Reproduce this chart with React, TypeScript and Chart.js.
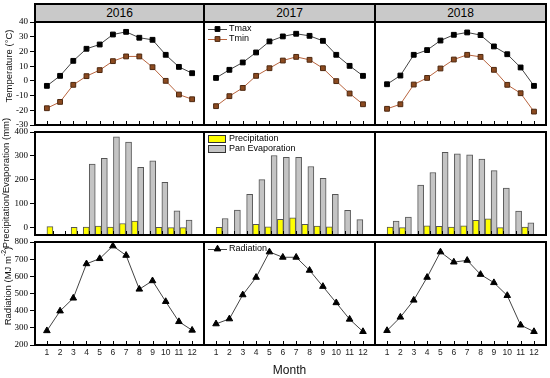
import React, { useEffect, useRef } from 'react';
import { Chart, registerables } from 'chart.js';

Chart.register(...registerables);

// ---------------- data ----------------
const MONTHS = [1, 2, 3, 4, 5, 6, 7, 8, 9, 10, 11, 12];
const YEARS = ['2016', '2017', '2018'];

const TMAX_2016 = [-3.4, 3.4, 13.6, 21.8, 24.7, 31.5, 33.3, 29.3, 27.9, 17.7, 9.5, 5.2];
const TMIN_2016 = [-18.6, -14.3, -2.7, 3.2, 7.3, 13.4, 16.6, 16.6, 9.3, 0, -9.3, -12.5];
const TMAX_2017 = [2, 7.5, 12.5, 19.3, 26.8, 30.2, 32, 30.6, 27.2, 17.7, 10.2, 3.4];
const TMIN_2017 = [-17.2, -10.4, -4.8, 3.4, 8.6, 13.8, 16.3, 14.3, 8.6, -0.2, -8.6, -15.9];
const TMAX_2018 = [-2.3, 3.6, 17.7, 20.9, 27.4, 31.3, 32.9, 31.1, 23.4, 18.1, 9.1, -3.4];
const TMIN_2018 = [-19, -15.9, -2.5, 2, 8.4, 14.5, 17.7, 16.3, 7.5, -2.7, -8.4, -20.9];

const PREC_2016 = [5, null, 2, 3, 7, 3, 18, 28, null, 2, 1, 1];
const EVAP_2016 = [null, null, null, 266, 290, 380, 358, 252, 280, 190, 71, 32];
const PREC_2017 = [2, null, null, 15, 4, 35, 42, 15, 7, 4, null, null];
const EVAP_2017 = [39, 74, 140, 201, 302, 294, 294, 256, 207, 140, 73, 34];
const PREC_2018 = [3, 1, null, 8, 6, 3, 8, 31, 38, 1, null, 3];
const EVAP_2018 = [28, 45, 178, 231, 315, 309, 305, 287, 239, 166, 70, 21];

const RAD_2016 = [283, 398, 473, 673, 703, 777, 722, 525, 574, 453, 336, 286];
const RAD_2017 = [323, 352, 492, 594, 742, 711, 711, 635, 541, 446, 350, 278];
const RAD_2018 = [284, 362, 461, 594, 742, 683, 693, 611, 563, 488, 316, 278];

const TEMP_TICKS = [40, 30, 20, 10, 0, -10, -20, -30];
const WATER_TICKS = [400, 300, 200, 100, 0];
const RAD_TICKS = [800, 700, 600, 500, 400, 300, 200];

const TMAX = [TMAX_2016, TMAX_2017, TMAX_2018];
const TMIN = [TMIN_2016, TMIN_2017, TMIN_2018];
const PREC = [PREC_2016, PREC_2017, PREC_2018];
const EVAP = [EVAP_2016, EVAP_2017, EVAP_2018];
const RAD = [RAD_2016, RAD_2017, RAD_2018];

// ---------------- layout ----------------
const COL_L = [35, 204, 375];
const COL_R = [204, 375, 546];
const ROW_T = [22, 132, 242];
const ROW_B = [125, 235, 345];
const M = 10;
const YAXIS_W = 35;
const XAXIS_H = 16;

const SANS = '"Liberation Sans", Arial, sans-serif';
const SERIF = '"Liberation Serif", "Times New Roman", serif';

Chart.defaults.font.family = SANS;
Chart.defaults.color = '#000';

function canvasBox(r: number, c: number) {
  const left = c === 0 ? 0 : COL_L[c] - M;
  const right = COL_R[c] + M;
  const top = ROW_T[r] - M;
  const bottom = r === 2 ? ROW_B[r] + XAXIS_H : ROW_B[r] + M;
  return { left, top, width: right - left, height: bottom - top };
}

const pts = (arr: (number | null)[]) => MONTHS.map((m, i) => ({ x: m, y: arr[i] }));

const framePlugin = {
  id: 'frame',
  afterDatasetsDraw(chart: any) {
    const { ctx, chartArea: a, scales } = chart;
    const xs = scales.x;
    ctx.save();
    ctx.strokeStyle = '#000';
    ctx.lineWidth = 1;
    ctx.beginPath();
    MONTHS.forEach((m) => {
      const px = Math.round(xs.getPixelForValue(m)) + 0.5;
      ctx.moveTo(px, a.bottom);
      ctx.lineTo(px, a.bottom - 4);
    });
    ctx.stroke();
    ctx.lineWidth = 2;
    ctx.strokeRect(a.left, a.top, a.right - a.left, a.bottom - a.top);
    ctx.restore();
  },
};

function drawMarker(ctx: CanvasRenderingContext2D, style: string, x: number, y: number, r: number, fill: string, stroke: string) {
  ctx.beginPath();
  if (style === 'triangle') {
    ctx.moveTo(x, y - r);
    ctx.lineTo(x + r * 0.866, y + r * 0.5);
    ctx.lineTo(x - r * 0.866, y + r * 0.5);
  } else {
    const s = r * Math.SQRT1_2;
    ctx.rect(x - s, y - s, 2 * s, 2 * s);
  }
  ctx.closePath();
  ctx.fillStyle = fill;
  ctx.fill();
  ctx.strokeStyle = stroke;
  ctx.lineWidth = 1;
  ctx.stroke();
}

const legendPlugin = {
  id: 'panelLegend',
  afterDraw(chart: any, _args: any, opts: any) {
    if (!opts || !opts.show) return;
    const { ctx, chartArea: a } = chart;
    ctx.save();
    ctx.font = '9px ' + SANS;
    ctx.textBaseline = 'middle';
    chart.data.datasets.forEach((ds: any, i: number) => {
      const y = a.top + 7 + i * 10;
      const x0 = a.left + 4;
      if (opts.kind === 'box') {
        ctx.fillStyle = ds.backgroundColor;
        ctx.fillRect(x0, y - 4, 18, 8);
        ctx.strokeStyle = '#333';
        ctx.lineWidth = 1;
        ctx.strokeRect(x0 + 0.5, y - 3.5, 17, 7);
      } else {
        ctx.strokeStyle = ds.borderColor;
        ctx.lineWidth = 1;
        ctx.beginPath();
        ctx.moveTo(x0, y + 0.5);
        ctx.lineTo(x0 + 19, y + 0.5);
        ctx.stroke();
        drawMarker(ctx, ds.pointStyle, x0 + 9.5, y, ds.pointRadius, ds.pointBackgroundColor, ds.pointBorderColor);
      }
      ctx.fillStyle = '#000';
      ctx.textAlign = 'left';
      ctx.fillText(ds.label, a.left + 25, y);
    });
    ctx.restore();
  },
};

function datasetsFor(r: number, c: number): any[] {
  if (r === 0) {
    return [
      {
        label: 'Tmax', data: pts(TMAX[c]), borderColor: '#444', borderWidth: 1,
        pointStyle: 'rect', pointRadius: 3.4, pointBackgroundColor: '#000', pointBorderColor: '#000', pointBorderWidth: 1,
      },
      {
        label: 'Tmin', data: pts(TMIN[c]), borderColor: '#b8643e', borderWidth: 1,
        pointStyle: 'rect', pointRadius: 3.4, pointBackgroundColor: '#8b4a20', pointBorderColor: '#4d2810', pointBorderWidth: 1,
      },
    ];
  }
  if (r === 1) {
    return [
      { label: 'Precipitation', data: pts(PREC[c]), backgroundColor: '#ffff00', borderColor: '#555', borderWidth: 1, barThickness: 6, base: -30 },
      { label: 'Pan Evaporation', data: pts(EVAP[c]), backgroundColor: '#c4c4c4', borderColor: '#555', borderWidth: 1, barThickness: 6, base: -30 },
    ];
  }
  return [
    {
      label: 'Radiation', data: pts(RAD[c]), borderColor: '#444', borderWidth: 1,
      pointStyle: 'triangle', pointRadius: 3.8, pointBackgroundColor: '#000', pointBorderColor: '#000', pointBorderWidth: 1,
    },
  ];
}

const Y_RANGE = [
  { min: -30, max: 40, ticks: TEMP_TICKS },
  { min: -30, max: 400, ticks: WATER_TICKS },
  { min: 200, max: 800, ticks: RAD_TICKS },
];

function buildConfig(r: number, c: number): any {
  const yr = Y_RANGE[r];
  const yScale: any = {
    type: 'linear',
    min: yr.min,
    max: yr.max,
    display: c === 0,
    afterBuildTicks: (s: any) => { s.ticks = yr.ticks.map((v) => ({ value: v })); },
    ticks: { padding: 2, color: '#000', font: { size: 9, family: SERIF } },
    grid: { display: true, drawOnChartArea: false, drawTicks: true, tickLength: 5, color: '#000', lineWidth: 1 },
    border: { display: false },
  };
  if (c === 0) yScale.afterFit = (s: any) => { s.width = YAXIS_W; };
  const xScale: any = {
    type: 'linear',
    min: 0.1,
    max: 12.9,
    display: r === 2,
    afterBuildTicks: (s: any) => { s.ticks = MONTHS.map((v) => ({ value: v })); },
    ticks: { autoSkip: false, maxRotation: 0, padding: 3, color: '#222', font: { size: 8.5, family: SANS }, callback: (v: any) => String(v) },
    grid: { display: false, drawTicks: false },
    border: { display: false },
  };
  if (r === 2) xScale.afterFit = (s: any) => { s.height = XAXIS_H; };
  return {
    type: r === 1 ? 'bar' : 'line',
    data: { datasets: datasetsFor(r, c) },
    plugins: [framePlugin, legendPlugin],
    options: {
      responsive: false,
      maintainAspectRatio: false,
      animation: false,
      devicePixelRatio: 1,
      events: [],
      layout: { padding: { left: c === 0 ? 0 : M, right: M, top: M, bottom: r === 2 ? 0 : M } },
      plugins: {
        legend: { display: false },
        tooltip: { enabled: false },
        panelLegend: { show: c === 1, kind: r === 1 ? 'box' : 'line' },
      },
      scales: { x: xScale, y: yScale },
    },
  };
}

const Y_TITLES = [
  { x: 7.5, y: 66, text: <>Temperature (°C)</> },
  { x: 5, y: 183, text: <>Precipitation/Evaporation (mm)</> },
  { x: 6.5, y: 286, text: <>Radiation (MJ m<span style={{ fontSize: 7, verticalAlign: 'super', lineHeight: 0 }}>-2</span>)</> },
];

export default function App() {
  const refs = useRef<(HTMLCanvasElement | null)[]>([]);

  useEffect(() => {
    const charts: Chart[] = [];
    for (let r = 0; r < 3; r++) {
      for (let c = 0; c < 3; c++) {
        const cv = refs.current[r * 3 + c];
        if (cv) charts.push(new Chart(cv, buildConfig(r, c)));
      }
    }
    return () => charts.forEach((ch) => ch.destroy());
  }, []);

  const canvases: React.ReactNode[] = [];
  for (let r = 0; r < 3; r++) {
    for (let c = 0; c < 3; c++) {
      const b = canvasBox(r, c);
      canvases.push(
        <canvas
          key={`cv-${r}-${c}`}
          ref={(el) => { refs.current[r * 3 + c] = el; }}
          width={b.width}
          height={b.height}
          style={{ position: 'absolute', left: b.left, top: b.top, width: b.width, height: b.height }}
        />
      );
    }
  }

  return (
    <div style={{ position: 'absolute', left: 0, top: 0, width: 550, height: 378, background: '#fff', fontFamily: SANS, overflow: 'hidden' }}>
      {YEARS.map((yrs, c) => (
        <div
          key={yrs}
          style={{
            position: 'absolute', left: COL_L[c] - 1, top: 3, width: COL_R[c] - COL_L[c] + 2, height: 20,
            boxSizing: 'border-box', border: '2px solid #000', background: '#c9c9c9',
            display: 'flex', alignItems: 'center', justifyContent: 'center', fontSize: 12, color: '#000',
          }}
        >
          {yrs}
        </div>
      ))}
      {canvases}
      {Y_TITLES.map((t, i) => (
        <div
          key={`yt-${i}`}
          style={{
            position: 'absolute', left: t.x, top: t.y, transform: 'translate(-50%, -50%) rotate(-90deg)',
            whiteSpace: 'nowrap', fontSize: 9.5, color: '#111', lineHeight: '11px',
          }}
        >
          {t.text}
        </div>
      ))}
      <div style={{ position: 'absolute', left: 289.5, top: 370, transform: 'translate(-50%, -50%)', fontSize: 12, color: '#111', whiteSpace: 'nowrap' }}>
        Month
      </div>
    </div>
  );
}
